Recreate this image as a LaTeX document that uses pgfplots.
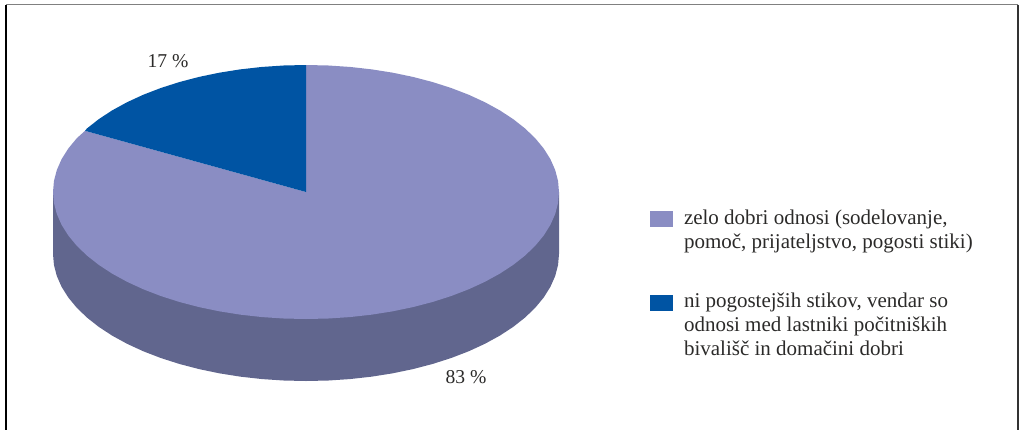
\documentclass[border=0pt]{standalone}
\usepackage{pgfplots}
\pgfplotsset{compat=1.18}
\usepackage{fontspec}
\setmainfont{Liberation Serif}
\definecolor{lightslice}{HTML}{8A8DC3}
\definecolor{darkslice}{HTML}{0054A3}
\definecolor{sideslice}{HTML}{61668E}
\definecolor{txt}{HTML}{2B2A29}
\begin{document}
\begin{tikzpicture}
\useasboundingbox (0,0) rectangle (764.25pt,321.75pt);
\begin{axis}[
  at={(0,0)}, anchor=south west,
  scale only axis, width=764.25pt, height=321.75pt,
  xmin=0, xmax=1019, ymin=0, ymax=429, y dir=reverse,
  hide axis, no markers,
  legend style={at={(axis cs:650,210)}, anchor=north west, draw=none, fill=none,
    font=\fontsize{15.75pt}{18pt}\selectfont, text=txt, inner sep=0pt, outer sep=0pt,
    row sep=31.75pt, column sep=8.25pt,
    nodes={align=left, inner sep=0pt, anchor=base west}},
  legend cell align=left,
]
% frame
\addplot[forget plot, black, line width=0.9pt] coordinates {(6,440) (6,4.5)};
\addplot[forget plot, gray, line width=0.9pt] coordinates {(6,4.5) (1018,4.5)};
\addplot[forget plot, black!80, line width=0.9pt] coordinates {(1018,4.5) (1018,440)};
% side wall
\addplot[forget plot, fill=sideslice, draw=none] coordinates {
(559,192) (559,254) (558.04,265.07) (555.16,276.05) (550.38,286.87) (543.74,297.44) (535.30,307.67) (525.1,317.5) (513.25,326.84) (499.81,335.64) (484.90,343.80) (468.63,351.29) (451.11,358.03) (432.5,363.98) (412.92,369.10) (392.53,373.34) (371.48,376.67) (349.93,379.07) (328.05,380.52) (306,381)
(283.95,380.52) (262.07,379.07) (240.52,376.67) (219.47,373.34) (199.08,369.10) (179.5,363.98) (160.89,358.03) (143.37,351.29) (127.10,343.80) (112.19,335.64) (98.75,326.84) (86.9,317.5) (76.70,307.67) (68.26,297.44) (61.62,286.87) (56.84,276.05) (53.96,265.07) (53,254) (53,192)
} --cycle;
% 83 %
\addplot[fill=lightslice, draw=none, legend image code/.code={\fill[lightslice] (0pt,16.5pt) rectangle (17.25pt,28.5pt);}] coordinates {
(306,192) (306,65) (328.05,65.48) (349.93,66.93) (371.48,69.33) (392.53,72.66) (412.92,76.90) (432.5,82.02) (451.11,87.97) (468.63,94.71) (484.90,102.20) (499.81,110.36) (513.25,119.16) (525.1,128.5) (535.30,138.33) (543.74,148.56) (550.38,159.13) (555.16,169.95) (558.04,180.93) (559,192)
(558.04,203.07) (555.16,214.05) (550.38,224.87) (543.74,235.44) (535.30,245.67) (525.1,255.5) (513.25,264.84) (499.81,273.64) (484.90,281.80) (468.63,289.29) (451.11,296.03) (432.5,301.98) (412.92,307.10) (392.53,311.34) (371.48,314.67) (349.93,317.07) (328.05,318.52) (306,319)
(283.95,318.52) (262.07,317.07) (240.52,314.67) (219.47,311.34) (199.08,307.10) (179.5,301.98) (160.89,296.03) (143.37,289.29) (127.10,281.80) (112.19,273.64) (98.75,264.84) (86.9,255.5) (76.70,245.67) (68.26,235.44) (61.62,224.87) (56.84,214.05) (53.96,203.07) (53,192)
(53.96,180.93) (56.84,169.95) (61.62,159.13) (68.26,148.56) (76.70,138.33) (85,130.8)
} --cycle;
\addlegendentry{zelo dobri odnosi (sodelovanje,\\pomoč, prijateljstvo, pogosti stiki)}
% 17 %
\addplot[fill=darkslice, draw=none, legend image code/.code={\fill[darkslice] (0pt,33.75pt) rectangle (17.25pt,45.75pt);}] coordinates {
(306,192) (85,130.8) (86.9,128.5) (98.75,119.16) (112.19,110.36) (127.10,102.20) (143.37,94.71) (160.89,87.97) (179.5,82.02) (199.08,76.90) (219.47,72.66) (240.52,69.33) (262.07,66.93) (283.95,65.48) (306,65)
} --cycle;
\addlegendentry{ni pogostejših stikov, vendar so\\odnosi med lastniki počitniških\\bivališč in domačini dobri}
\node[text=txt, font=\fontsize{14.7pt}{18pt}\selectfont] at (axis cs:168,61) {17 \%};
\node[text=txt, font=\fontsize{14.7pt}{18pt}\selectfont] at (axis cs:466,377) {83 \%};
\end{axis}
\end{tikzpicture}
\end{document}
